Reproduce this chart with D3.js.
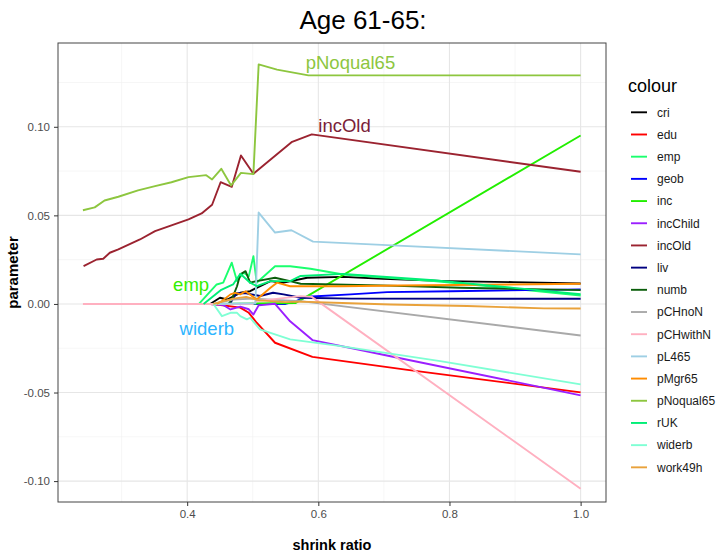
<!DOCTYPE html>
<html>
<head>
<meta charset="utf-8">
<script src="https://cdn.jsdelivr.net/npm/d3@7"></script>
<style>
  body { margin: 0; background: #fff; }
  svg { font-family: "Liberation Sans", Arial, sans-serif; }
</style>
</head>
<body>
<div id="chart"></div>
<script>
// shrink ratio / parameter pairs
const cri = [[0.435,0],[0.450,0.0035],[0.461,0.0025],[0.481,0.0063],[0.496,0.0072],[0.506,0.0091],[0.527,0.0129],[0.547,0.012],[0.583,0.0148],[0.638,0.0153],[0.699,0.0142],[0.796,0.0129],[0.898,0.0123],[1.0,0.0115]];
const edu = [[0.435,0],[0.445,-0.0003],[0.481,-0.0021],[0.494,-0.005],[0.506,-0.0106],[0.534,-0.0219],[0.591,-0.0299],[0.736,-0.0372],[1.0,-0.0499]];
const emp = [[0.418,0],[0.445,0.011],[0.455,0.012],[0.468,0.0233],[0.476,0.0129],[0.486,0.0176],[0.494,0.0157],[0.501,0.027],[0.506,0.012],[0.534,0.0213],[0.557,0.0213],[0.588,0.0199],[0.638,0.0166],[0.776,0.0129],[0.898,0.0086],[1.0,0.0048]];
const geob = [[0.44,0],[0.55,0],[0.565,0.0015],[0.583,0.0041],[0.649,0.0054],[0.705,0.0067],[0.802,0.0072],[1.0,0.0082]];
const inc = [[0.44,0],[0.565,0.0005],[1.0,0.0951]];
const incChild = [[0.435,0],[0.455,-0.0006],[0.466,-0.0031],[0.481,-0.0015],[0.494,-0.003],[0.501,-0.006],[0.509,-0.0008],[0.534,0.0001],[0.557,-0.0098],[0.591,-0.0204],[0.710,-0.0295],[1.0,-0.0516]];
const incOld = [[0.242,0.0213],[0.262,0.0251],[0.272,0.0255],[0.282,0.0289],[0.295,0.0308],[0.328,0.0364],[0.351,0.0411],[0.376,0.0443],[0.402,0.0477],[0.422,0.0511],[0.438,0.056],[0.451,0.0687],[0.468,0.0661],[0.482,0.0838],[0.501,0.0735],[0.524,0.0806],[0.560,0.0915],[0.590,0.0957],[1.0,0.0746]];
const liv = [[0.465,0],[0.475,0.006],[0.490,0.006],[0.511,0.0045],[0.531,0.0063],[0.547,0.0054],[0.573,0.0035],[0.65,0.003],[1.0,0.0029]];
const numb = [[0.463,0],[0.468,0.0026],[0.476,0.01],[0.481,0.0167],[0.489,0.0185],[0.496,0.012],[0.506,0.0129],[0.534,0.0148],[0.557,0.0129],[0.573,0.0114],[0.695,0.0105],[0.817,0.0091],[0.944,0.0082],[1.0,0.0078]];
const pCHnoN = [[0.44,0],[0.47,0.0025],[0.50,0.003],[0.55,0.002],[0.573,0.0016],[1.0,-0.0178]];
const pCHwithN = [[0.241,0],[0.50,0],[0.506,0.0016],[0.573,0.0044],[0.59,0.004],[1.0,-0.1043]];
const pL465 = [[0.44,0],[0.504,0.0004],[0.509,0.0516],[0.534,0.0403],[0.559,0.0416],[0.592,0.0352],[0.705,0.0332],[1.0,0.028]];
const pMgr65 = [[0.445,0],[0.453,0.0016],[0.466,0.0054],[0.473,0.0063],[0.481,0.0054],[0.489,0.0072],[0.506,0.0025],[0.527,0.0091],[0.537,0.012],[0.557,0.01],[0.634,0.01],[0.725,0.0104],[1.0,0.0114]];
const pNoqual65 = [[0.241,0.0529],[0.259,0.0545],[0.274,0.0584],[0.295,0.0605],[0.325,0.0641],[0.351,0.0665],[0.376,0.0687],[0.402,0.0716],[0.429,0.0727],[0.438,0.0703],[0.452,0.0763],[0.467,0.0669],[0.482,0.074],[0.501,0.0733],[0.509,0.1352],[0.537,0.1323],[0.585,0.129],[1.0,0.129]];
const rUK = [[0.425,0],[0.452,0.008],[0.470,0.011],[0.481,0.017],[0.496,0.012],[0.506,0.0101],[0.527,0.0129],[0.557,0.0129],[0.573,0.0158],[0.638,0.017],[0.776,0.0134],[0.898,0.0091],[1.0,0.0055]];
const widerb = [[0.44,0],[0.453,-0.0069],[0.466,-0.005],[0.476,-0.005],[0.481,-0.0069],[0.491,-0.0087],[0.496,-0.0078],[0.511,-0.0144],[0.557,-0.02],[0.634,-0.0238],[0.786,-0.0323],[1.0,-0.0454]];
const work49h = [[0.44,0],[0.47,0.003],[0.49,0.004],[0.51,0.002],[0.55,0.001],[0.573,0.0013],[0.649,0.0004],[0.71,-0.0003],[0.827,-0.0012],[0.882,-0.0018],[0.944,-0.0025],[1.0,-0.0026]];

const seriesNames = ['cri','edu','emp','geob','inc','incChild','incOld','liv','numb','pCHnoN','pCHwithN','pL465','pMgr65','pNoqual65','rUK','widerb','work49h'];
const seriesData = [cri, edu, emp, geob, inc, incChild, incOld, liv, numb, pCHnoN, pCHwithN, pL465, pMgr65, pNoqual65, rUK, widerb, work49h];
const seriesColors = ['#000000','#ff0000','#1aff6e','#0000ff','#22ee00','#9b1fff','#9b2330','#000080','#0b5e0b','#a9a9a9','#ffb0c0','#9ecfe4','#ff8c00','#8dc63f','#00ee76','#7fffd4','#e9a23b'];

const xTicks = [0.4, 0.6, 0.8, 1.0];
const yTicks = [-0.10, -0.05, 0.00, 0.05, 0.10];
const xMinor = [0.3, 0.5, 0.7, 0.9];
const yMinor = [-0.075, -0.025, 0.025, 0.075, 0.125];

// in-plot text labels: [name, shrink ratio, parameter]
const labels = [['pNoqual65', 0.649, 0.1363], ['incOld', 0.640, 0.1007], ['emp', 0.406, 0.011], ['widerb', 0.430, -0.0138]];
const labelColors = ['#8dc63f', '#7a1d38', '#33ee00', '#2cb5ff'];

const width = 717, height = 555;
const panel = { left: 58, right: 606, top: 43, bottom: 502 };

const svg = d3.select('#chart').append('svg')
  .attr('width', width)
  .attr('height', height);

const x = d3.scaleLinear().domain([0.203, 1.0387]).range([panel.left, panel.right]);
const y = d3.scaleLinear().domain([-0.1118, 0.1473]).range([panel.bottom, panel.top]);

// grid
const grid = svg.append('g');
xMinor.forEach((t) => grid.append('line')
  .attr('x1', x(t)).attr('x2', x(t)).attr('y1', panel.top).attr('y2', panel.bottom)
  .attr('stroke', '#f0f0f0').attr('stroke-width', 0.6));
yMinor.forEach((t) => grid.append('line')
  .attr('x1', panel.left).attr('x2', panel.right).attr('y1', y(t)).attr('y2', y(t))
  .attr('stroke', '#f0f0f0').attr('stroke-width', 0.6));
xTicks.forEach((t) => grid.append('line')
  .attr('x1', x(t)).attr('x2', x(t)).attr('y1', panel.top).attr('y2', panel.bottom)
  .attr('stroke', '#e6e6e6').attr('stroke-width', 1.1));
yTicks.forEach((t) => grid.append('line')
  .attr('x1', panel.left).attr('x2', panel.right).attr('y1', y(t)).attr('y2', y(t))
  .attr('stroke', '#e6e6e6').attr('stroke-width', 1.1));

// lines
const line = d3.line().x((d) => x(d[0])).y((d) => y(d[1]));
svg.append('clipPath').attr('id', 'clip').append('rect')
  .attr('x', panel.left).attr('y', panel.top)
  .attr('width', panel.right - panel.left).attr('height', panel.bottom - panel.top);

const lines = svg.append('g').attr('clip-path', 'url(#clip)');
seriesData.forEach((data, i) => {
  lines.append('path')
    .datum(data)
    .attr('fill', 'none')
    .attr('stroke', seriesColors[i])
    .attr('stroke-width', 1.9)
    .attr('stroke-linejoin', 'round')
    .attr('d', line);
});

// text labels
labels.forEach((l, i) => {
  svg.append('text')
    .attr('x', x(l[1]))
    .attr('y', y(l[2]))
    .attr('dy', '0.35em')
    .attr('text-anchor', 'middle')
    .attr('fill', labelColors[i])
    .style('font-size', '18.5px')
    .text(l[0]);
});

// panel border
svg.append('rect')
  .attr('x', panel.left).attr('y', panel.top)
  .attr('width', panel.right - panel.left).attr('height', panel.bottom - panel.top)
  .attr('fill', 'none').attr('stroke', '#444').attr('stroke-width', 1);

// axes
const xAxis = svg.append('g')
  .attr('transform', `translate(0,${panel.bottom})`)
  .call(d3.axisBottom(x).tickValues(xTicks).tickSize(4).tickPadding(4).tickFormat(d3.format('.1f')));
const yAxis = svg.append('g')
  .attr('transform', `translate(${panel.left},0)`)
  .call(d3.axisLeft(y).tickValues(yTicks).tickSize(4).tickPadding(4));
[xAxis, yAxis].forEach((a) => {
  a.select('.domain').remove();
  a.selectAll('.tick line').attr('stroke', '#333');
  a.selectAll('.tick text')
    .attr('fill', '#4d4d4d')
    .style('font-size', '11.5px')
    .style('font-family', '"Liberation Sans", Arial, sans-serif');
});
yAxis.selectAll('.tick text').text((d) => d3.format('.2f')(d).replace('−', '-'));

// titles
svg.append('text')
  .attr('x', 363).attr('y', 29)
  .attr('text-anchor', 'middle')
  .style('font-size', '26px')
  .text('Age 61-65:');

svg.append('text')
  .attr('x', (panel.left + panel.right) / 2).attr('y', 550)
  .attr('text-anchor', 'middle')
  .style('font-size', '14.5px')
  .style('font-weight', 'bold')
  .text('shrink ratio');

svg.append('text')
  .attr('transform', `translate(18,${(panel.top + panel.bottom) / 2}) rotate(-90)`)
  .attr('text-anchor', 'middle')
  .style('font-size', '15px')
  .style('font-weight', 'bold')
  .text('parameter');

// legend
const legend = svg.append('g');
legend.append('text')
  .attr('x', 628).attr('y', 92)
  .style('font-size', '18px')
  .text('colour');

seriesNames.forEach((name, i) => {
  const cy = 112.3 + i * 22.19;
  legend.append('line')
    .attr('x1', 631).attr('x2', 647)
    .attr('y1', cy).attr('y2', cy)
    .attr('stroke', seriesColors[i])
    .attr('stroke-width', 1.9);
  legend.append('text')
    .attr('x', 657).attr('y', cy + 4.3)
    .attr('fill', '#1a1a1a')
    .style('font-size', '12px')
    .text(name);
});
</script>
</body>
</html>
